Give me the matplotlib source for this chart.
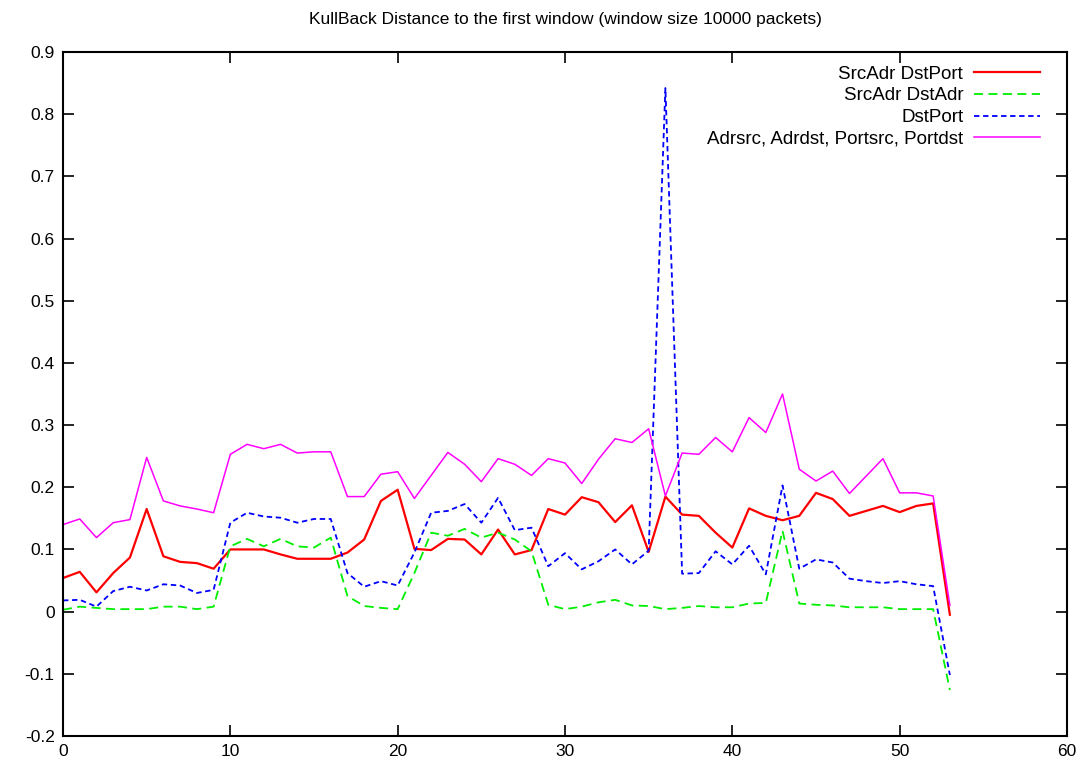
import matplotlib.pyplot as plt

plt.rcParams['font.family'] = ['Liberation Sans', 'DejaVu Sans']

# window index 0..53
windows = list(range(54))

srcadr_dstport = [0.054, 0.064, 0.031, 0.062, 0.087, 0.165, 0.089, 0.080, 0.078, 0.069,
                  0.100, 0.100, 0.100, 0.092, 0.085, 0.085, 0.085, 0.095, 0.116, 0.178,
                  0.196, 0.101, 0.099, 0.117, 0.116, 0.092, 0.132, 0.092, 0.099, 0.165,
                  0.156, 0.184, 0.176, 0.144, 0.171, 0.096, 0.185, 0.156, 0.154, 0.127,
                  0.103, 0.166, 0.154, 0.147, 0.154, 0.191, 0.181, 0.154, 0.162, 0.170,
                  0.160, 0.170, 0.174, -0.005]

srcadr_dstadr = [0.003, 0.008, 0.006, 0.004, 0.004, 0.004, 0.008, 0.008, 0.004, 0.008,
                 0.105, 0.117, 0.105, 0.117, 0.105, 0.103, 0.119, 0.025, 0.009, 0.006,
                 0.004, 0.062, 0.127, 0.122, 0.133, 0.119, 0.127, 0.116, 0.097, 0.011,
                 0.004, 0.008, 0.015, 0.019, 0.010, 0.009, 0.004, 0.006, 0.009, 0.007,
                 0.007, 0.013, 0.014, 0.130, 0.013, 0.011, 0.010, 0.007, 0.007, 0.007,
                 0.004, 0.004, 0.004, -0.126]

dstport = [0.018, 0.019, 0.008, 0.033, 0.040, 0.034, 0.044, 0.042, 0.030, 0.035,
           0.143, 0.159, 0.153, 0.151, 0.143, 0.149, 0.149, 0.062, 0.040, 0.049,
           0.042, 0.095, 0.159, 0.162, 0.173, 0.143, 0.183, 0.131, 0.135, 0.073,
           0.094, 0.068, 0.081, 0.100, 0.076, 0.098, 0.842, 0.061, 0.062, 0.097,
           0.076, 0.106, 0.060, 0.203, 0.069, 0.084, 0.079, 0.053, 0.049, 0.046,
           0.049, 0.044, 0.041, -0.102]

all_fields = [0.140, 0.149, 0.119, 0.143, 0.148, 0.248, 0.178, 0.170, 0.165, 0.159,
              0.253, 0.269, 0.262, 0.269, 0.255, 0.257, 0.257, 0.185, 0.185, 0.221,
              0.225, 0.182, 0.219, 0.256, 0.237, 0.209, 0.246, 0.237, 0.219, 0.246,
              0.239, 0.206, 0.245, 0.278, 0.272, 0.294, 0.186, 0.255, 0.253, 0.280,
              0.257, 0.312, 0.288, 0.350, 0.229, 0.210, 0.226, 0.190, 0.218, 0.246,
              0.191, 0.191, 0.186, 0.010]

labels = ['SrcAdr DstPort', 'SrcAdr DstAdr', 'DstPort', 'Adrsrc, Adrdst, Portsrc, Portdst']

fig = plt.figure(figsize=(10.88, 7.71), dpi=100)
ax = fig.add_axes([0.0579, 0.0454, 0.9228, 0.8872])

ax.plot(windows, srcadr_dstport, color='#ff0000', lw=1.6, label=labels[0])
ax.plot(windows, srcadr_dstadr, color='#00ee00', lw=1.3, dashes=(5, 3), label=labels[1])
ax.plot(windows, dstport, color='#0000ff', lw=1.3, dashes=(3, 2), label=labels[2])
ax.plot(windows, all_fields, color='#ff00ff', lw=1.1, label=labels[3])

ax.set_xlim(0, 60)
ax.set_ylim(-0.2, 0.9)
ax.set_xticks(range(0, 61, 10))
ax.set_yticks([i / 10 for i in range(-2, 10)])
ax.set_yticklabels(['%g' % (i / 10) for i in range(-2, 10)])
ax.tick_params(direction='in', length=8, width=1.2, top=True, right=True, labelsize=12.5, pad=6)
for s in ax.spines.values():
    s.set_linewidth(1.5)

ax.set_title('KullBack Distance to the first window (window size 10000 packets)', fontsize=12.5, pad=20)

leg = ax.legend(loc='upper right', bbox_to_anchor=(0.99, 1.005), frameon=False, markerfirst=False,
                fontsize=13.5, handlelength=3.5, labelspacing=0.25, handletextpad=0.6)
for t in leg.get_texts():
    t.set_ha('right')

fig.savefig('out.png', dpi=100)
